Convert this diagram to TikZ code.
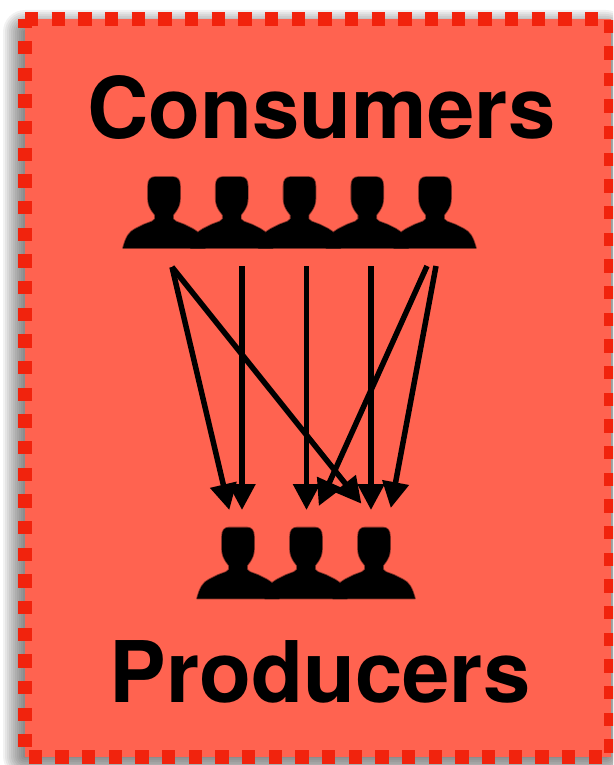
\documentclass[tikz,border=0pt]{standalone}
\usepackage{fontspec}
\setmainfont{TeX Gyre Heros}
\usetikzlibrary{arrows.meta}
\definecolor{panelfill}{HTML}{FF6350}
\definecolor{panelline}{HTML}{F1230D}
\tikzset{
  x=1pt,y=-1pt,
  panel/.style={fill=panelfill,draw=panelline,line width=14pt,dash pattern=on 13.33pt off 13.33pt,line join=miter},
  heading/.style={font=\fontsize{85}{85}\selectfont\bfseries,text=black,anchor=base,inner sep=0pt},
  link/.style={draw=black,line width=5.5pt,-{Triangle[length=26pt,width=26pt]}},
  person/.pic={
    \path[fill=black,draw=black,draw opacity=0.45,line width=1.6pt,line join=round] (-9,0) .. controls (-13.5,0) and (-16,3) .. (-16,9)
      -- (-16,22) .. controls (-16,27) and (-14,31) .. (-12,34)
      -- (-9,38) -- (-9,42) -- (-12,44.5) -- (-20,47.5) -- (-29,52)
      .. controls (-35,55) and (-38,60) .. (-41,71)
      -- (41,71) .. controls (38,60) and (35,55) .. (29,52)
      -- (20,47.5) -- (12,44.5) -- (9,42) -- (9,38) -- (12,34)
      .. controls (14,31) and (16,27) .. (16,22)
      -- (16,9) .. controls (16,3) and (13.5,0) .. (9,0) -- cycle;
  }
}
\begin{document}
\begin{tikzpicture}
\useasboundingbox (0,0) rectangle (613,765);
\clip (0,0) rectangle (613,765);
\fill[white] (0,0) rectangle (613,765);
% soft shadow
\foreach \r in {1,...,11}{
  \fill[black,opacity=0.05,rounded corners=2*\r pt]
    ({25-2*\r},{32-2*\r}) rectangle ({606+2*\r},{756+2*\r});
}
% panel
\draw[panel] (25,19) -- (611,19) -- (611,757) -- (25,757) -- cycle;
% headings
\node[heading] (consumers) at (321.5,139) {Consumers};
\node[heading] (producers) at (320,702) {Producers};
% people
\pic (c1) at (164,177) {person};
\pic (c2) at (231.75,177) {person};
\pic (c3) at (299.5,177) {person};
\pic (c4) at (367.25,177) {person};
\pic (c5) at (435,177) {person};
\pic (p1) at (238,527.5) {person};
\pic (p2) at (306,527.5) {person};
\pic (p3) at (374,527.5) {person};
% connector ends
\coordinate (a) at (172,267);
\coordinate (b) at (242,266);
\coordinate (c) at (306.5,266);
\coordinate (d) at (371,266);
\coordinate (e) at (427,266);
\coordinate (f) at (436,266);
\coordinate (ta) at (229.3,510);
\coordinate (tb) at (242,510);
\coordinate (tc) at (306.5,510);
\coordinate (td) at (371,510);
\coordinate (te) at (361.4,503.7);
\coordinate (tf) at (318.8,506);
\coordinate (tg) at (390.8,508);
% connectors
\draw[link] (a) -- (ta);
\draw[link] (b) -- (tb);
\draw[link] (c) -- (tc);
\draw[link] (d) -- (td);
\draw[link] (a) -- (te);
\draw[link] (e) -- (tf);
\draw[link] (f) -- (tg);
\end{tikzpicture}
\end{document}
